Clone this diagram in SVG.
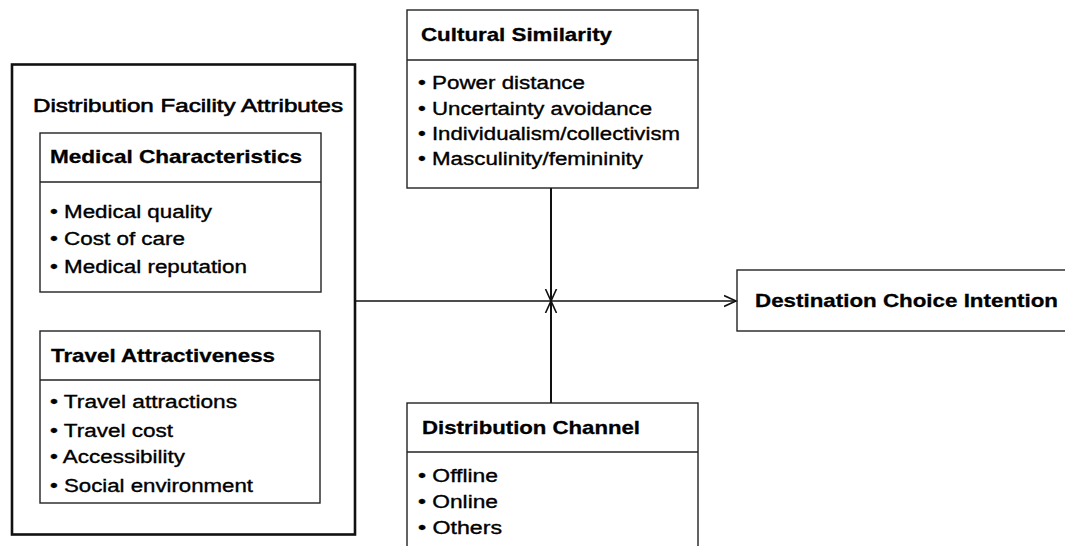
<svg xmlns="http://www.w3.org/2000/svg" width="1065" height="546" viewBox="0 0 1065 546">
<style>
.box{fill:#fff;stroke:#222;stroke-width:1.4}
.outer{fill:#fff;stroke:#111;stroke-width:2.6}
.div{stroke:#222;stroke-width:1.4}
.t{font-family:"Liberation Sans",Arial,sans-serif;fill:#000}
.h{font-size:19px;font-weight:bold;stroke:#000;stroke-width:0.3}
.b{font-size:18px;stroke:#000;stroke-width:0.35}
.big{font-size:19px;stroke:#000;stroke-width:0.6}
.con{stroke:#111;fill:none}
</style>
<defs>
<marker id="arr" markerUnits="userSpaceOnUse" markerWidth="14" markerHeight="14" refX="12" refY="6" orient="auto" viewBox="0 0 14 12">
<path d="M0,0.5 L12,6 L0,11.5" fill="none" stroke="#111" stroke-width="1.6"/>
</marker>
</defs>
<rect width="1065" height="546" fill="#fff"/>
<g id="distribution-facility-attributes">
<rect class="outer" x="12" y="64.5" width="343" height="470"/>
<text class="t big" x="33" y="112" textLength="310" lengthAdjust="spacingAndGlyphs">Distribution Facility Attributes</text>
</g>
<g id="medical-characteristics">
<rect class="box" x="40" y="133" width="281" height="159"/>
<line class="div" x1="40" y1="182" x2="321" y2="182"/>
<text class="t h" x="50" y="163" textLength="252" lengthAdjust="spacingAndGlyphs">Medical Characteristics</text>
<text class="t b" x="50" y="218" textLength="162" lengthAdjust="spacingAndGlyphs">• Medical quality</text>
<text class="t b" x="50" y="245" textLength="135" lengthAdjust="spacingAndGlyphs">• Cost of care</text>
<text class="t b" x="50" y="273" textLength="197" lengthAdjust="spacingAndGlyphs">• Medical reputation</text>
</g>
<g id="travel-attractiveness">
<rect class="box" x="40" y="331" width="280" height="172"/>
<line class="div" x1="40" y1="380" x2="320" y2="380"/>
<text class="t h" x="51" y="362" textLength="224" lengthAdjust="spacingAndGlyphs">Travel Attractiveness</text>
<text class="t b" x="50" y="408" textLength="187" lengthAdjust="spacingAndGlyphs">• Travel attractions</text>
<text class="t b" x="50" y="437" textLength="123" lengthAdjust="spacingAndGlyphs">• Travel cost</text>
<text class="t b" x="50" y="463" textLength="135" lengthAdjust="spacingAndGlyphs">• Accessibility</text>
<text class="t b" x="50" y="492" textLength="203" lengthAdjust="spacingAndGlyphs">• Social environment</text>
</g>
<g id="cultural-similarity">
<rect class="box" x="407" y="10" width="291" height="178"/>
<line class="div" x1="407" y1="60" x2="698" y2="60"/>
<text class="t h" x="421" y="41" textLength="191" lengthAdjust="spacingAndGlyphs">Cultural Similarity</text>
<text class="t b" x="418" y="89" textLength="167" lengthAdjust="spacingAndGlyphs">• Power distance</text>
<text class="t b" x="418" y="115" textLength="234" lengthAdjust="spacingAndGlyphs">• Uncertainty avoidance</text>
<text class="t b" x="418" y="140" textLength="262" lengthAdjust="spacingAndGlyphs">• Individualism/collectivism</text>
<text class="t b" x="418" y="165" textLength="225" lengthAdjust="spacingAndGlyphs">• Masculinity/femininity</text>
</g>
<g id="distribution-channel">
<rect class="box" x="407" y="403" width="291" height="160"/>
<line class="div" x1="407" y1="452" x2="698" y2="452"/>
<text class="t h" x="422" y="434" textLength="218" lengthAdjust="spacingAndGlyphs">Distribution Channel</text>
<text class="t b" x="418" y="482" textLength="80" lengthAdjust="spacingAndGlyphs">• Offline</text>
<text class="t b" x="418" y="508" textLength="80" lengthAdjust="spacingAndGlyphs">• Online</text>
<text class="t b" x="418" y="534" textLength="84" lengthAdjust="spacingAndGlyphs">• Others</text>
</g>
<g id="destination-choice-intention">
<rect class="box" x="737" y="270" width="340" height="61"/>
<text class="t h" x="755" y="307" textLength="303" lengthAdjust="spacingAndGlyphs">Destination Choice Intention</text>
</g>
<g id="connectors">
<line class="con" x1="355" y1="301" x2="736" y2="301" stroke-width="1.6" marker-end="url(#arr)"/>
<line class="con" x1="551" y1="188" x2="551" y2="301" stroke-width="2" marker-end="url(#arr)"/>
<line class="con" x1="551" y1="403" x2="551" y2="301" stroke-width="2" marker-end="url(#arr)"/>
</g>
</svg>
